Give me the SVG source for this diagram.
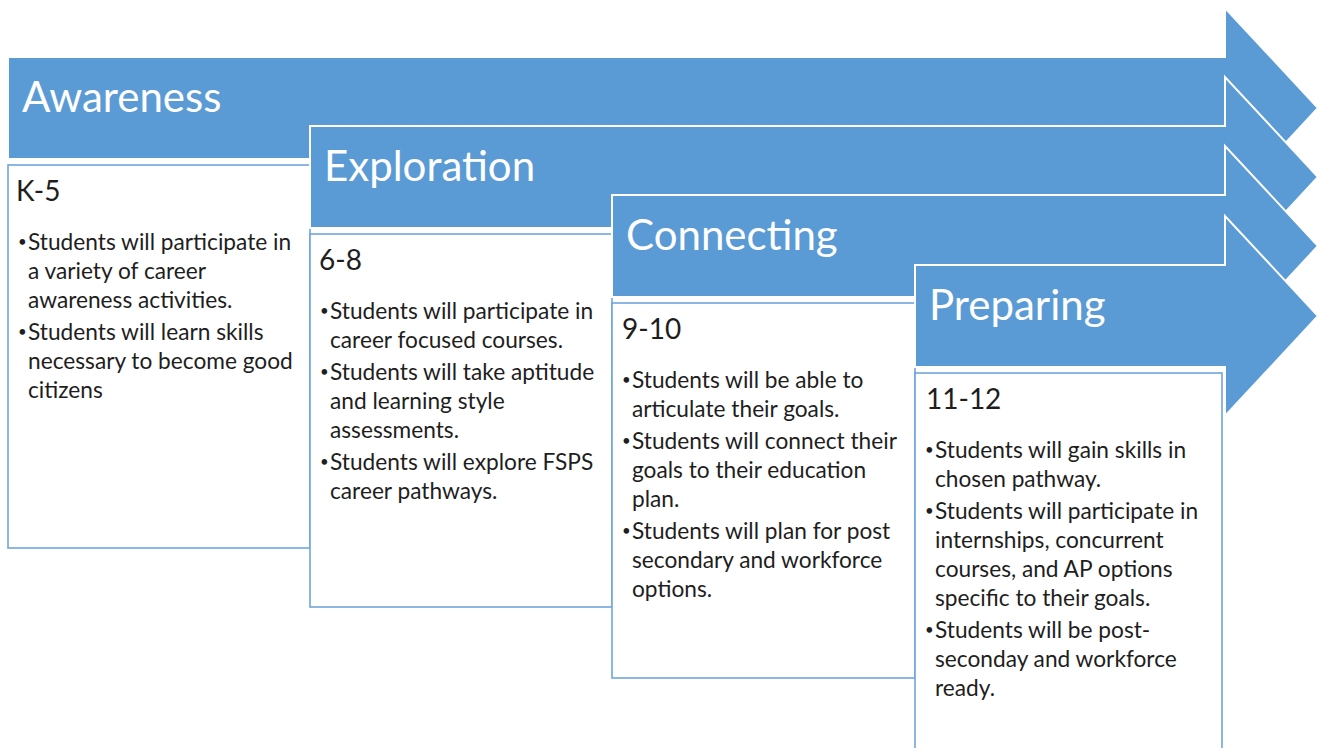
<svg xmlns="http://www.w3.org/2000/svg" width="1320" height="748" viewBox="0 0 1320 748">
<style>
.arrow{fill:#5B9BD5;stroke:#FFFFFF;stroke-width:2;stroke-linejoin:miter}
.box{fill:#FFFFFF;stroke:#6FA6DB;stroke-width:1.6}
.head{font-family:Lato,"Open Sans",sans-serif;font-size:42px;fill:#FFFFFF}
.lab{font-family:Lato,"Open Sans",sans-serif;font-size:28px;fill:#1E1E1E}
.txt{font-family:Lato,"Open Sans",sans-serif;font-size:22.7px;fill:#1E1E1E}
.bul{font-family:Lato,"Open Sans",sans-serif;font-size:15px;fill:#1E1E1E}
</style>
<rect width="1320" height="748" fill="#FFFFFF"/>
<g id="stage-awareness">
<polygon class="arrow" points="8,57 1225,57 1225,8 1318,108 1225,208 1225,159 8,159"/>
<rect class="box" x="8" y="165" width="302" height="383"/>
<text class="head" x="22" y="112">Awareness</text>
<text class="lab" x="16" y="201">K-5</text>
<text class="bul"><tspan x="18" y="247">•</tspan><tspan x="18" y="337">•</tspan></text>
<text class="txt"><tspan x="28" y="250">Students will participate in</tspan><tspan x="28" y="279">a variety of career</tspan><tspan x="28" y="308">awareness activities.</tspan><tspan x="28" y="340">Students will learn skills</tspan><tspan x="28" y="369">necessary to become good</tspan><tspan x="28" y="398">citizens</tspan></text>
</g>
<g id="stage-exploration">
<polygon class="arrow" points="310,126 1225,126 1225,77 1318,177 1225,277 1225,228 310,228"/>
<rect class="box" x="310" y="234" width="302" height="373"/>
<text class="head" x="324" y="181">Exploration</text>
<text class="lab" x="319" y="270">6-8</text>
<text class="bul"><tspan x="320" y="316">•</tspan><tspan x="320" y="377">•</tspan><tspan x="320" y="467">•</tspan></text>
<text class="txt"><tspan x="330" y="319">Students will participate in</tspan><tspan x="330" y="348">career focused courses.</tspan><tspan x="330" y="380">Students will take aptitude</tspan><tspan x="330" y="409">and learning style</tspan><tspan x="330" y="438">assessments.</tspan><tspan x="330" y="470">Students will explore FSPS</tspan><tspan x="330" y="499">career pathways.</tspan></text>
</g>
<g id="stage-connecting">
<polygon class="arrow" points="612,195 1225,195 1225,146 1318,246 1225,346 1225,297 612,297"/>
<rect class="box" x="612" y="303" width="303" height="375"/>
<text class="head" x="626" y="250">Connecting</text>
<text class="lab" x="622" y="339">9-10</text>
<text class="bul"><tspan x="622" y="385">•</tspan><tspan x="622" y="446">•</tspan><tspan x="622" y="536">•</tspan></text>
<text class="txt"><tspan x="632" y="388">Students will be able to</tspan><tspan x="632" y="417">articulate their goals.</tspan><tspan x="632" y="449">Students will connect their</tspan><tspan x="632" y="478">goals to their education</tspan><tspan x="632" y="507">plan.</tspan><tspan x="632" y="539">Students will plan for post</tspan><tspan x="632" y="568">secondary and workforce</tspan><tspan x="632" y="597">options.</tspan></text>
</g>
<g id="stage-preparing">
<polygon class="arrow" points="915,265 1225,265 1225,216 1318,316 1225,416 1225,367 915,367"/>
<rect class="box" x="915" y="373" width="307" height="390"/>
<text class="head" x="929" y="320">Preparing</text>
<text class="lab" x="926" y="409">11-12</text>
<text class="bul"><tspan x="925" y="455">•</tspan><tspan x="925" y="516">•</tspan><tspan x="925" y="635">•</tspan></text>
<text class="txt"><tspan x="935" y="458">Students will gain skills in</tspan><tspan x="935" y="487">chosen pathway.</tspan><tspan x="935" y="519">Students will participate in</tspan><tspan x="935" y="548">internships, concurrent</tspan><tspan x="935" y="577">courses, and AP options</tspan><tspan x="935" y="606">specific to their goals.</tspan><tspan x="935" y="638">Students will be post-</tspan><tspan x="935" y="667">seconday and workforce</tspan><tspan x="935" y="696">ready.</tspan></text>
</g>
<g id="connectors"></g>
</svg>
